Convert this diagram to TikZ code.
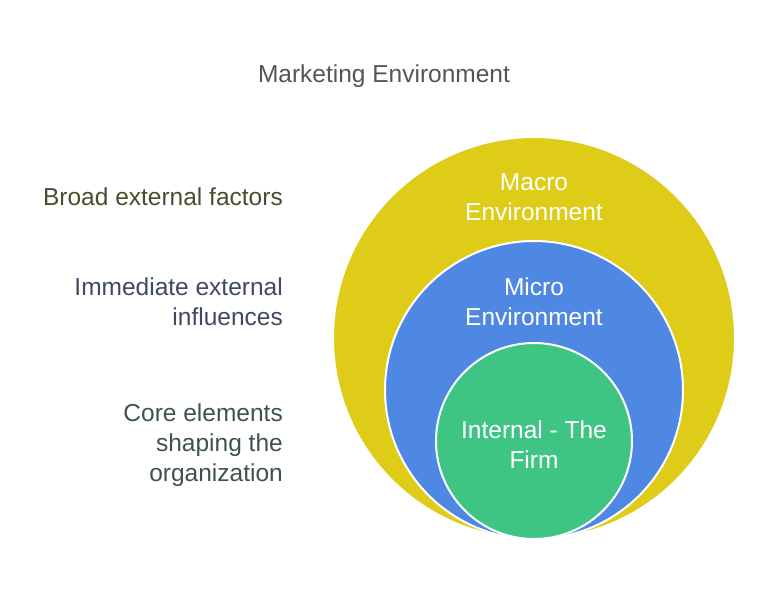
\documentclass[tikz,border=0pt]{standalone}
\usepackage{fontspec}
\setmainfont{Liberation Sans}
\definecolor{macro}{HTML}{DECC19}
\definecolor{micro}{HTML}{4F88E3}
\definecolor{firm}{HTML}{3EC584}
\definecolor{titlec}{HTML}{555555}
\definecolor{broadc}{HTML}{4C4A2F}
\definecolor{immc}{HTML}{3F4A5E}
\definecolor{corec}{HTML}{3D5449}
\begin{document}
\begin{tikzpicture}[x=1pt,y=-1pt,
  ring/.style={circle, draw=white, line width=2pt, inner sep=0pt},
  intext/.style={text=white, font=\fontsize{24.5}{30}\selectfont, align=center},
  sidetext/.style={font=\fontsize{24.5}{30}\selectfont, align=right, anchor=east, inner sep=0pt}]
\useasboundingbox (0,0) rectangle (768,603);
\node[ring, fill=macro, minimum size=402pt] (macro) at (534,338) {};
\node[ring, fill=micro, minimum size=298pt] (micro) at (534,390) {};
\node[ring, fill=firm, minimum size=196pt] (firm) at (534,441) {};
\node[intext] (macrot) at (534,197) {Macro\\Environment};
\node[intext] (microt) at (534,302) {Micro\\Environment};
\node[intext] (firmt) at (534,445) {Internal - The\\Firm};
\node[font=\fontsize{24.5}{30}\selectfont, text=titlec] (title) at (384,76) {Marketing Environment};
\node[sidetext, text=broadc] (broad) at (283,197) {Broad external factors};
\node[sidetext, text=immc] (imm) at (283,302) {Immediate external\\influences};
\node[sidetext, text=corec] (core) at (283,445) {Core elements\\shaping the\\organization};
\end{tikzpicture}
\end{document}
